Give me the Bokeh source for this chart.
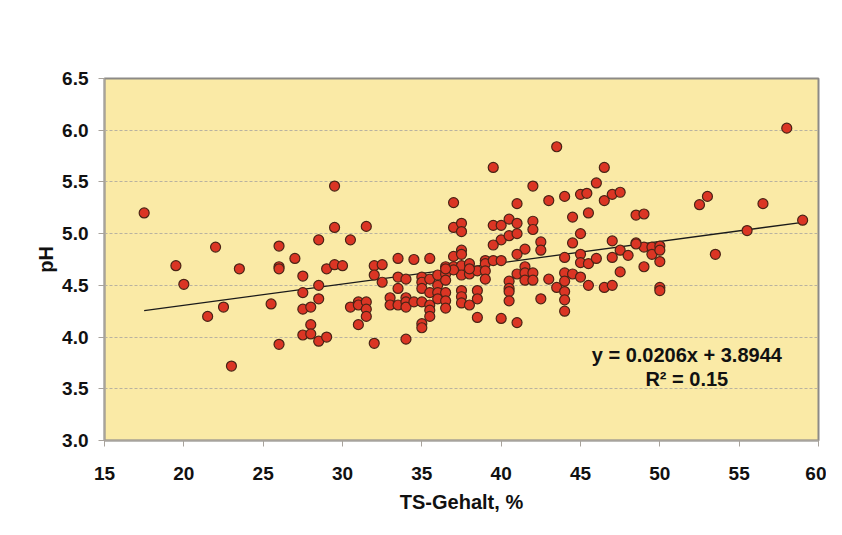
from bokeh.plotting import figure
from bokeh.models import FixedTicker, PrintfTickFormatter, Label, Range1d
from bokeh.embed import file_html
from bokeh.resources import INLINE

ts = [17.5, 22.0, 26.0, 29.5, 28.5, 29.5, 30.5, 31.5, 37.0, 37.0, 37.5, 37.5, 37.5,
      43.5, 39.5, 46.5, 42.0, 46.0, 41.0, 43.0, 44.0, 45.0, 45.4, 46.5, 47.0, 47.5,
      44.5, 45.5, 48.5, 49.0, 39.5, 40.0, 40.5, 41.0, 42.0, 42.0, 40.0, 40.5, 41.0,
      39.5, 42.5, 42.5, 41.5, 44.5, 45.0, 47.0, 48.5, 49.0, 58.0, 52.5, 53.0, 56.5,
      59.0, 55.5, 49.5, 50.0, 53.5, 19.5, 23.5, 26.0, 26.0, 20.0, 22.5, 21.5, 25.5,
      26.0, 23.0, 27.0, 29.0, 29.5, 30.0, 27.5, 28.5, 27.5, 28.5, 27.5, 28.0, 28.0,
      27.5, 28.0, 28.5, 29.0, 30.5, 31.0, 31.0, 31.5, 31.5, 31.5, 31.0, 32.0, 32.0,
      32.5, 32.0, 32.5, 33.5, 34.5, 35.5, 33.5, 34.0, 33.5, 33.0, 33.0, 33.5, 34.0,
      34.0, 34.0, 34.5, 35.0, 35.0, 35.0, 35.0, 35.5, 35.5, 35.5, 35.5, 35.5, 35.0,
      35.0, 34.0, 36.0, 36.0, 36.0, 36.0, 36.5, 36.5, 36.5, 36.5, 36.5, 36.5, 37.0,
      37.0, 37.5, 37.5, 37.5, 37.5, 37.5, 37.5, 38.0, 38.0, 38.0, 41.0, 38.5, 39.0,
      39.0, 39.0, 39.0, 39.5, 40.0, 38.5, 38.5, 38.5, 40.0, 41.0, 40.5, 40.5, 40.5,
      40.5, 41.0, 41.5, 41.5, 41.5, 42.0, 42.0, 42.5, 43.0, 43.5, 44.0, 44.0, 44.0,
      44.0, 44.0, 44.0, 44.5, 45.0, 45.0, 45.0, 45.5, 45.5, 46.0, 46.5, 47.0, 47.0,
      47.5, 47.5, 48.0, 48.5, 49.0, 49.5, 50.0, 50.0, 50.0, 50.0, 37.0, 36.5, 38.0]
ph = [5.20, 4.87, 4.88, 5.46, 4.94, 5.06, 4.94, 5.07, 5.30, 5.06, 5.10, 5.02, 4.84,
      5.84, 5.64, 5.64, 5.46, 5.49, 5.29, 5.32, 5.36, 5.38, 5.39, 5.32, 5.38, 5.40,
      5.16, 5.20, 5.18, 5.19, 5.08, 5.08, 5.14, 5.10, 5.12, 5.04, 4.94, 4.98, 5.00,
      4.89, 4.92, 4.84, 4.85, 4.91, 5.00, 4.93, 4.91, 4.87, 6.02, 5.28, 5.36, 5.29,
      5.13, 5.03, 4.87, 4.88, 4.80, 4.69, 4.66, 4.68, 4.66, 4.51, 4.29, 4.20, 4.32,
      3.93, 3.72, 4.76, 4.66, 4.70, 4.69, 4.59, 4.50, 4.43, 4.37, 4.27, 4.29, 4.12,
      4.02, 4.03, 3.96, 4.00, 4.29, 4.34, 4.31, 4.34, 4.27, 4.20, 4.12, 3.94, 4.69,
      4.70, 4.60, 4.53, 4.76, 4.75, 4.76, 4.58, 4.56, 4.47, 4.38, 4.31, 4.31, 4.38,
      4.34, 4.29, 4.34, 4.34, 4.58, 4.53, 4.47, 4.56, 4.43, 4.31, 4.26, 4.20, 4.13,
      4.09, 3.98, 4.60, 4.50, 4.43, 4.37, 4.68, 4.61, 4.55, 4.43, 4.35, 4.28, 4.78,
      4.68, 4.80, 4.69, 4.60, 4.45, 4.39, 4.33, 4.71, 4.61, 4.31, 4.80, 4.64, 4.74,
      4.71, 4.64, 4.56, 4.74, 4.74, 4.45, 4.37, 4.19, 4.18, 4.14, 4.54, 4.47, 4.44,
      4.35, 4.61, 4.68, 4.62, 4.55, 4.62, 4.55, 4.37, 4.56, 4.48, 4.77, 4.62, 4.54,
      4.44, 4.36, 4.25, 4.61, 4.80, 4.72, 4.58, 4.71, 4.50, 4.76, 4.48, 4.77, 4.50,
      4.84, 4.63, 4.79, 4.90, 4.68, 4.80, 4.84, 4.73, 4.48, 4.45, 4.65, 4.66, 4.66]

x_ticks = [15, 20, 25, 30, 35, 40, 45, 50, 55, 60]
y_ticks = [3.0, 3.5, 4.0, 4.5, 5.0, 5.5, 6.0, 6.5]
slope = 0.0206
intercept = 3.8944
eq_text = "y = 0.0206x + 3.8944"
r2_text = "R² = 0.15"
x_title = "TS-Gehalt, %"
y_title = "pH"

FONT = "Liberation Sans"

p = figure(width=826, height=519, output_backend="svg", toolbar_location=None,
           x_range=Range1d(15, 60), y_range=Range1d(3.0, 6.5),
           min_border_left=104, min_border_right=8, min_border_top=78, min_border_bottom=79,
           frame_width=714, frame_height=362)

p.background_fill_color = "#FAEAA6"
p.border_fill_color = "white"
p.outline_line_color = "#8C8A86"
p.outline_line_width = 2

p.xgrid.grid_line_color = None
p.ygrid.grid_line_color = "#B8B2A0"
p.ygrid.grid_line_dash = "3 2"
p.ygrid.grid_line_width = 1

for ax in (p.xaxis[0], p.yaxis[0]):
    ax.axis_line_color = "#A8A39C"
    ax.axis_line_width = 1.5
    ax.major_tick_line_color = "#A8A39C"
    ax.major_tick_out = 6
    ax.major_tick_in = 0
    ax.minor_tick_line_color = None
    ax.major_label_text_font = FONT
    ax.major_label_text_font_style = "bold"
    ax.major_label_text_font_size = "19px"
    ax.major_label_text_color = "#111111"
    ax.axis_label_text_font = FONT
    ax.axis_label_text_font_style = "bold"
    ax.axis_label_text_font_size = "20px"
    ax.axis_label_text_color = "#111111"

p.xaxis.ticker = FixedTicker(ticks=x_ticks)
p.yaxis.ticker = FixedTicker(ticks=y_ticks)
p.yaxis.formatter = PrintfTickFormatter(format="%.1f")
p.xaxis.major_label_standoff = 20
p.yaxis.major_label_standoff = 10
p.xaxis.axis_label = x_title
p.yaxis.axis_label = y_title
p.xaxis.axis_label_standoff = 8
p.yaxis.axis_label_standoff = 2

x0, x1 = min(ts), max(ts)
p.line([x0, x1], [slope * x0 + intercept, slope * x1 + intercept],
       line_color="#1A1A1A", line_width=1.3)

p.scatter(ts, ph, size=10, fill_color="#DB3524", line_color="#4A2416", line_width=1.2)

p.add_layout(Label(x=51.7, y=3.83, text=eq_text, text_align="center", text_baseline="middle",
                   text_font=FONT, text_font_style="bold", text_font_size="20px",
                   text_color="#111111"))
p.add_layout(Label(x=51.7, y=3.59, text=r2_text, text_align="center", text_baseline="middle",
                   text_font=FONT, text_font_style="bold", text_font_size="20px",
                   text_color="#111111"))

open("out.html", "w").write(file_html(p, INLINE))
